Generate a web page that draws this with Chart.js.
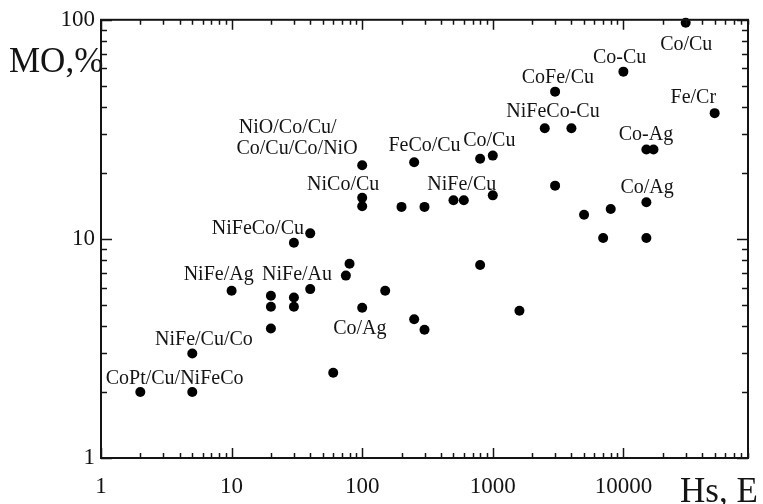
<!DOCTYPE html>
<html>
<head>
<meta charset="utf-8">
<script src="https://cdn.jsdelivr.net/npm/chart.js@4/dist/chart.umd.min.js"></script>
<style>
  html, body { margin: 0; padding: 0; background: #fff; }
  #wrap { width: 763px; height: 504px; }
</style>
</head>
<body>
<div id="wrap"><canvas id="chart"></canvas></div>
<script>
// Hs, Oe  vs  MR, %
const hsValues = [2, 5, 5, 10, 20, 20, 20, 30, 30, 30, 40, 40, 60, 75, 80, 150, 100, 250, 300,
  100, 100, 100, 200, 300, 500, 600, 1000, 250, 800, 1000, 800, 1600,
  30000, 10000, 3000, 2500, 4000, 50000, 15000, 17000, 3000, 15000, 5000, 8000, 7000, 15000];
const moValues = [2, 2, 3, 5.8, 5.5, 4.9, 3.9, 5.4, 4.9, 9.6, 10.6, 5.9, 2.45, 6.8, 7.7, 5.8, 4.85, 4.3, 3.85,
  21.7, 15.4, 14.1, 14, 14, 15, 15, 15.8, 22.4, 23.2, 24, 7.6, 4.7,
  97, 58, 47, 32, 32, 37.5, 25.6, 25.6, 17.5, 14.7, 12.9, 13.7, 10.1, 10.1];

// text labels, anchored in data units (centre of text)
const labelTexts = ['Co/Cu', 'Co-Cu', 'CoFe/Cu', 'Fe/Cr', 'NiFeCo-Cu', 'Co-Ag', 'Co/Ag',
  'NiO/Co/Cu/', 'Co/Cu/Co/NiO', 'FeCo/Cu', 'Co/Cu', 'NiCo/Cu', 'NiFe/Cu', 'NiFeCo/Cu',
  'NiFe/Ag', 'NiFe/Au', 'NiFe/Cu/Co', 'CoPt/Cu/NiFeCo', 'Co/Ag'];
const labelHs = [30300, 9360, 3150, 34300, 2890, 14900, 15200,
  26.9, 31.7, 300, 940, 71.5, 579, 15.9,
  7.96, 31.7, 6.14, 3.66, 96];
const labelMo = [77, 67.2, 54.5, 44.2, 38.2, 30, 17.2,
  32, 25.7, 26.5, 28.2, 17.6, 17.6, 11.1,
  6.86, 6.86, 3.47, 2.29, 3.9];

const decades = [1, 10, 100, 1000, 10000];
const xMax = 90000;
const yDecades = [1, 10];
const yMax = 100;

const serif = '"Liberation Serif", "DejaVu Serif", serif';
const ink = '#141414';

function logTicks(decs, max) {
  const out = [];
  decs.forEach(d => {
    for (let m = 1; m <= 9; m++) {
      if (m * d <= max) out.push({ value: m * d, major: m === 1 });
    }
  });
  if (!out.some(t => t.value === max) && decs.map(d => d * 10).includes(max)) {
    out.push({ value: max, major: true });
  }
  return out;
}

const isPow10 = v => Math.abs(Math.log10(v) - Math.round(Math.log10(v))) < 1e-9;

// frame + inward ticks + free text
const framePlugin = {
  id: 'frame',
  afterDatasetsDraw(chart) {
    const { ctx, chartArea: a, scales: { x, y } } = chart;
    ctx.save();
    ctx.strokeStyle = ink;
    ctx.lineWidth = 1.5;
    ctx.beginPath();
    x.ticks.forEach(t => {
      const px = Math.round(x.getPixelForValue(t.value)) + 0.5;
      const len = t.major ? 10 : 5;
      ctx.moveTo(px, a.bottom); ctx.lineTo(px, a.bottom - len);
      ctx.moveTo(px, a.top); ctx.lineTo(px, a.top + len);
    });
    y.ticks.forEach(t => {
      const py = Math.round(y.getPixelForValue(t.value)) + 0.5;
      const len = t.major ? 11 : 6;
      ctx.moveTo(a.left, py); ctx.lineTo(a.left + len, py);
      ctx.moveTo(a.right, py); ctx.lineTo(a.right - len, py);
    });
    ctx.stroke();
    ctx.lineWidth = 2;
    ctx.strokeRect(a.left, a.top, a.right - a.left, a.bottom - a.top);

    ctx.fillStyle = ink;
    ctx.font = '20px ' + serif;
    ctx.textAlign = 'center';
    ctx.textBaseline = 'middle';
    labelTexts.forEach((txt, i) => {
      ctx.fillText(txt, x.getPixelForValue(labelHs[i]), y.getPixelForValue(labelMo[i]));
    });

    ctx.font = '35px ' + serif;
    ctx.textAlign = 'left';
    ctx.textBaseline = 'alphabetic';
    ctx.fillText('MO,%', 9, 72);
    ctx.fillText('Hs, E', 680, 502);
    ctx.restore();
  }
};

new Chart(document.getElementById('chart'), {
  type: 'scatter',
  data: {
    datasets: [{
      data: hsValues.map((v, i) => ({ x: v, y: moValues[i] })),
      backgroundColor: '#000',
      borderWidth: 0,
      pointRadius: 5,
      clip: false
    }]
  },
  options: {
    responsive: true,
    maintainAspectRatio: false,
    animation: false,
    layout: { padding: { top: 18, right: 2, left: 0, bottom: 0 } },
    plugins: { legend: { display: false }, tooltip: { enabled: false } },
    scales: {
      x: {
        type: 'logarithmic',
        min: 1,
        max: xMax,
        grid: { display: false, drawTicks: false },
        border: { display: false },
        afterBuildTicks: s => { s.ticks = logTicks(decades, xMax); },
        afterFit: s => { s.height = 46; },
        ticks: {
          autoSkip: false,
          maxRotation: 0,
          padding: 15,
          color: ink,
          font: { family: serif, size: 23 },
          callback: v => isPow10(v) ? String(v) : ''
        }
      },
      y: {
        type: 'logarithmic',
        min: 1,
        max: yMax,
        grid: { display: false, drawTicks: false },
        border: { display: false },
        afterBuildTicks: s => { s.ticks = logTicks(yDecades, yMax); },
        afterFit: s => { s.width = 101; },
        ticks: {
          autoSkip: false,
          padding: 6,
          color: ink,
          font: { family: serif, size: 23 },
          callback: v => isPow10(v) ? String(v) : ''
        }
      }
    }
  },
  plugins: [framePlugin]
});
</script>
</body>
</html>
